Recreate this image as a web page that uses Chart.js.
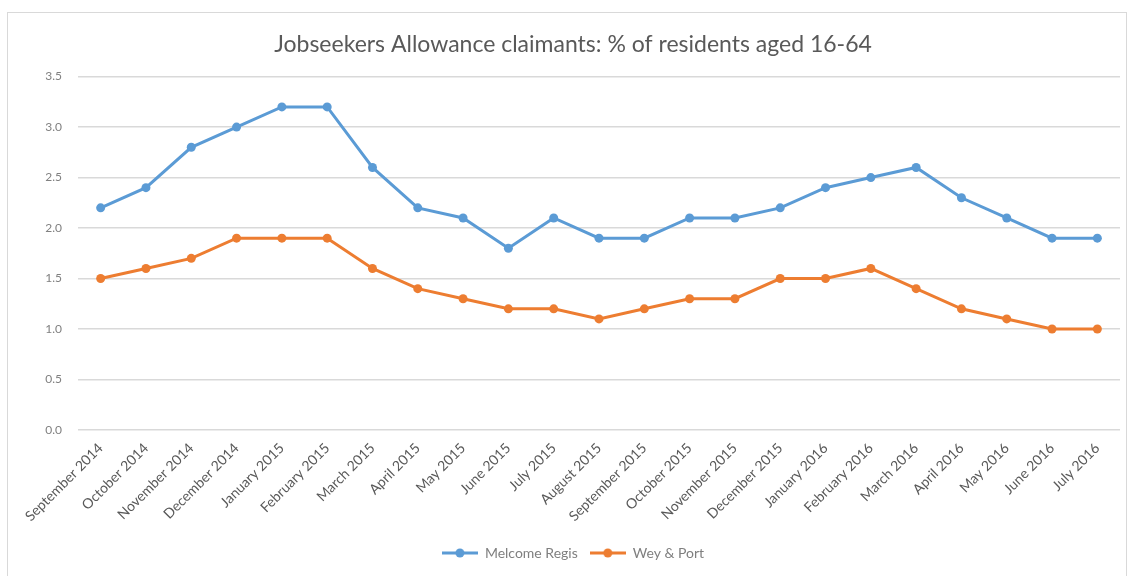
<!DOCTYPE html>
<html>
<head>
<meta charset="utf-8">
<script src="https://cdn.jsdelivr.net/npm/chart.js@4/dist/chart.umd.min.js"></script>
<style>
  html, body { margin: 0; padding: 0; background: #fff; }
  #wrap { position: relative; width: 1132px; height: 576px; overflow: hidden; }
  #frame { position: absolute; left: 7px; top: 12px; width: 1120px; height: 580px; border: 1px solid #d9d9d9; box-sizing: border-box; }
  #chart { position: absolute; left: 0; top: 0; }
</style>
</head>
<body>
<div id="wrap">
  <div id="frame"></div>
  <canvas id="chart" width="1132" height="576"></canvas>
</div>
<script>
var months = [
  'September 2014', 'October 2014', 'November 2014', 'December 2014',
  'January 2015', 'February 2015', 'March 2015', 'April 2015', 'May 2015',
  'June 2015', 'July 2015', 'August 2015', 'September 2015', 'October 2015',
  'November 2015', 'December 2015', 'January 2016', 'February 2016',
  'March 2016', 'April 2016', 'May 2016', 'June 2016', 'July 2016'
];
var melcombeRegis = [2.2, 2.4, 2.8, 3.0, 3.2, 3.2, 2.6, 2.2, 2.1, 1.8, 2.1, 1.9,
                     1.9, 2.1, 2.1, 2.2, 2.4, 2.5, 2.6, 2.3, 2.1, 1.9, 1.9];
var weyPort = [1.5, 1.6, 1.7, 1.9, 1.9, 1.9, 1.6, 1.4, 1.3, 1.2, 1.2, 1.1,
               1.2, 1.3, 1.3, 1.5, 1.5, 1.6, 1.4, 1.2, 1.1, 1.0, 1.0];

var blue = '#5b9bd5';
var orange = '#ed7d31';
var grey = '#595959';
var font = 'Lato, "Open Sans", sans-serif';

// little line-with-dot swatch for the legend, like Excel draws it
function swatch(color) {
  var c = document.createElement('canvas');
  c.width = 36; c.height = 12;
  var g = c.getContext('2d');
  g.strokeStyle = color;
  g.lineWidth = 3;
  g.beginPath(); g.moveTo(0, 6); g.lineTo(36, 6); g.stroke();
  g.fillStyle = color;
  g.beginPath(); g.arc(18, 6, 4.5, 0, Math.PI * 2); g.fill();
  return c;
}

var chart = new Chart(document.getElementById('chart'), {
  type: 'line',
  data: {
    labels: months,
    datasets: [{
      label: 'Melcome Regis',
      data: melcombeRegis,
      borderColor: blue,
      backgroundColor: blue,
      borderWidth: 3,
      pointRadius: 4.5,
      pointBorderWidth: 0,
      tension: 0
    }, {
      label: 'Wey & Port',
      data: weyPort,
      borderColor: orange,
      backgroundColor: orange,
      borderWidth: 3,
      pointRadius: 4.5,
      pointBorderWidth: 0,
      tension: 0
    }]
  },
  options: {
    responsive: false,
    animation: false,
    layout: { padding: { left: 14, right: 0, top: 0, bottom: 6 } },
    plugins: {
      title: {
        display: true,
        text: 'Jobseekers Allowance claimants: % of residents aged 16-64',
        color: grey,
        font: { family: font, size: 23, weight: 'normal' },
        padding: { top: 31, bottom: 18 }
      },
      legend: {
        position: 'bottom',
        labels: {
          usePointStyle: true,
          pointStyleWidth: 36,
          color: '#7f7f7f',
          font: { family: font, size: 14 },
          padding: 12,
          generateLabels: function (c) {
            var items = Chart.defaults.plugins.legend.labels.generateLabels(c);
            items.forEach(function (it, i) {
              it.pointStyle = swatch(i === 0 ? blue : orange);
            });
            return items;
          }
        }
      },
      tooltip: { enabled: false }
    },
    scales: {
      x: {
        offset: true,
        grid: { display: false },
        border: { display: false },
        ticks: {
          color: grey,
          font: { family: font, size: 14 },
          maxRotation: 45,
          minRotation: 45,
          autoSkip: false,
          padding: 2
        },
        afterFit: function (s) { s.height = 104; }
      },
      y: {
        min: 0,
        max: 3.5,
        ticks: {
          stepSize: 0.5,
          color: '#808080',
          font: { family: font, size: 12 },
          padding: 16,
          callback: function (v) { return v.toFixed(1); }
        },
        grid: { color: '#d9d9d9', lineWidth: 1.5, drawTicks: false },
        border: { display: false },
        afterFit: function (s) { s.width = 64; }
      },
      // empty right-hand axis, only there to keep the margin right of the plot
      yRight: {
        position: 'right',
        min: 0,
        max: 3.5,
        grid: { display: false },
        border: { display: false },
        ticks: { display: false },
        afterFit: function (s) { s.width = 12; }
      }
    }
  }
});
</script>
</body>
</html>
